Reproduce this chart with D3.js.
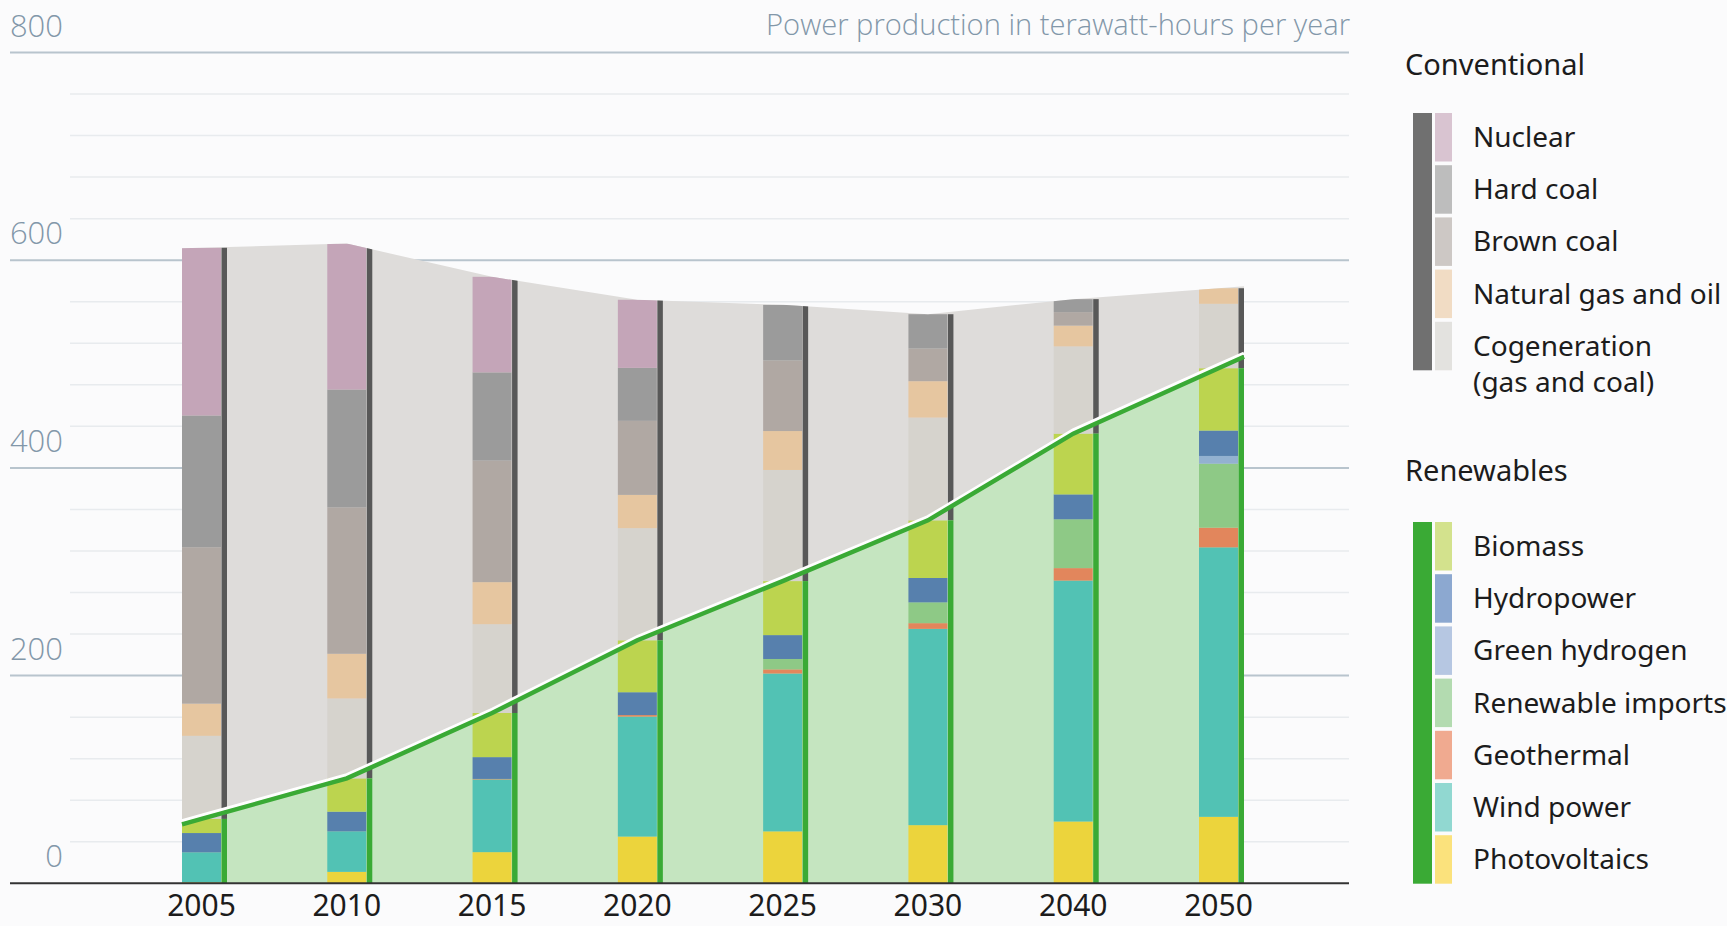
<!DOCTYPE html>
<html>
<head>
<meta charset="utf-8">
<script src="https://cdn.jsdelivr.net/npm/d3@7"></script>
<style>
  body { margin: 0; background: #fbfbfc; }
  svg { display: block; }
</style>
</head>
<body>
<svg width="1727" height="926"></svg>
<script>
// Years on the x axis
const years = ["2005", "2010", "2015", "2020", "2025", "2030", "2040", "2050"];

// Renewables (TWh per year), stacked bottom to top
const photovoltaics    = [1, 11, 30, 45, 50, 56, 59.5, 64];
const windPower        = [28.8, 39, 70, 115.5, 152, 189, 232, 259.5];
const geothermal       = [0, 0, 0.5, 1.5, 4, 5.5, 12, 19];
const renewableImports = [0, 0, 0, 0, 10, 20, 47, 61.5];
const greenHydrogen    = [0, 0, 0, 0, 0, 0, 0, 7.5];
const hydropower       = [18.6, 19, 21, 22, 23, 23.5, 24, 24.5];
const biomass          = [13.6, 32, 42.5, 50, 52, 55.5, 58.5, 60];

// Conventional (TWh per year), stacked on top of renewables
const cogeneration  = [80, 77, 85.5, 108, 107, 99, 84, 62];
const naturalGasOil = [31, 43, 40.5, 32, 37.5, 35, 20, 15];
const brownCoal     = [150.5, 141, 117, 71.3, 68, 31.5, 13, 0];
const hardCoal      = [127, 113.5, 85, 51, 53.5, 33, 12.5, 0];
const nuclear       = [161.5, 140.5, 92, 65.6, 0, 0, 0, 0];

const yTicks = [0, 200, 400, 600, 800];

const renewableKeys = ["Photovoltaics", "Wind power", "Geothermal", "Renewable imports", "Green hydrogen", "Hydropower", "Biomass"];
const renewableValues = [photovoltaics, windPower, geothermal, renewableImports, greenHydrogen, hydropower, biomass];
const conventionalKeys = ["Cogeneration", "Natural gas and oil", "Brown coal", "Hard coal", "Nuclear"];
const conventionalValues = [cogeneration, naturalGasOil, brownCoal, hardCoal, nuclear];

// bar colours and (lighter) legend colours
const barColor = {
    "Photovoltaics": "#ecd43c", "Wind power": "#52c2b4", "Geothermal": "#e2865c",
    "Renewable imports": "#8ec986", "Green hydrogen": "#93b1d0", "Hydropower": "#5780ad",
    "Biomass": "#bcd44f", "Cogeneration": "#d6d3cd", "Natural gas and oil": "#e6c6a0",
    "Brown coal": "#b0a8a3", "Hard coal": "#9b9b9b", "Nuclear": "#c4a5b8"
};
const legendColor = {
    "Photovoltaics": "#fbe27c", "Wind power": "#91d8d1", "Geothermal": "#f0aa90",
    "Renewable imports": "#b3dbb0", "Green hydrogen": "#b6c7e2", "Hydropower": "#8ca8d0",
    "Biomass": "#d3e28d", "Cogeneration": "#e3e2df", "Natural gas and oil": "#f1dcc4",
    "Brown coal": "#cdc8c5", "Hard coal": "#bdbdbd", "Nuclear": "#d9c4d1"
};

const svg = d3.select("svg");

// Scales
const x = d3.scalePoint().domain(years).range([201.5, 1218.5]);
const y = d3.scaleLinear().domain([0, 800]).range([883.3, 52.5]);
const barW = 39, stripeGap = 0.5, stripeW = 5.5;

// Stack all segments
const allKeys = renewableKeys.concat(conventionalKeys);
const rows = years.map((year, i) => {
    const r = { year: year };
    renewableKeys.forEach((k, j) => r[k] = renewableValues[j][i]);
    conventionalKeys.forEach((k, j) => r[k] = conventionalValues[j][i]);
    return r;
});
const series = d3.stack().keys(allKeys)(rows);
const renewTotal = rows.map(r => d3.sum(renewableKeys, k => r[k]));
const total = rows.map(r => d3.sum(allKeys, k => r[k]));

// Points through bar centres, extended to first bar's left and last stripe's right
function extend(values) {
    const pts = years.map((yr, i) => [x(yr), values[i]]);
    const n = pts.length;
    const xa = x(years[0]) - barW / 2;
    const xb = x(years[n - 1]) + barW / 2 + stripeGap + stripeW;
    const va = pts[0][1] + (pts[1][1] - pts[0][1]) * (xa - pts[0][0]) / (pts[1][0] - pts[0][0]);
    const vb = pts[n - 1][1] + (pts[n - 1][1] - pts[n - 2][1]) * (xb - pts[n - 1][0]) / (pts[n - 1][0] - pts[n - 2][0]);
    return [[xa, va]].concat(pts, [[xb, vb]]);
}
const renewPts = extend(renewTotal);
const totalPts = extend(total);
const band = renewPts.map((p, i) => ({ x: p[0], r: p[1], t: totalPts[i][1] }));

// Grid lines
const minor = d3.range(40, 800, 40).filter(v => v % 200 !== 0);
svg.append("g").selectAll("line").data(minor).join("line")
    .attr("x1", 70).attr("x2", 1349)
    .attr("y1", d => y(d)).attr("y2", d => y(d))
    .attr("stroke", "#e8ebee").attr("stroke-width", 1.5);
svg.append("g").selectAll("line").data(yTicks.filter(v => v > 0)).join("line")
    .attr("x1", 10).attr("x2", 1349)
    .attr("y1", d => y(d)).attr("y2", d => y(d))
    .attr("stroke", "#b8c4cd").attr("stroke-width", 2);

// Y labels
svg.append("g").selectAll("text").data(yTicks).join("text")
    .attr("x", 63).attr("y", d => y(d) - 16)
    .attr("text-anchor", "end")
    .style("font-family", "'Open Sans', 'Noto Sans', sans-serif")
    .style("font-weight", 300)
    .style("font-size", "31px")
    .style("fill", "#8297a9")
    .text(d => d);

svg.append("text")
    .attr("x", 1350).attr("y", 35)
    .attr("text-anchor", "end")
    .attr("textLength", 584).attr("lengthAdjust", "spacingAndGlyphs")
    .style("font-family", "'Open Sans', 'Noto Sans', sans-serif")
    .style("font-weight", 300)
    .style("font-size", "30px")
    .style("fill", "#8297a9")
    .text("Power production in terawatt-hours per year");

// Areas
svg.append("path").datum(band)
    .attr("d", d3.area().x(d => d.x).y0(y(0)).y1(d => y(d.r)))
    .attr("fill", "#c5e5c0");
svg.append("path").datum(band)
    .attr("d", d3.area().x(d => d.x).y0(d => y(d.r)).y1(d => y(d.t)))
    .attr("fill", "#dedcda");

// clip everything to the total outline
svg.append("clipPath").attr("id", "outline")
    .append("path").datum(band)
    .attr("d", d3.area().x(d => d.x).y0(y(0) + 3).y1(d => y(d.t)));

const bars = svg.append("g").attr("clip-path", "url(#outline)");
bars.selectAll("g").data(series).join("g")
    .attr("fill", s => barColor[s.key])
    .selectAll("rect").data(s => s.filter(d => d[1] - d[0] > 0)).join("rect")
    .attr("x", d => x(d.data.year) - barW / 2)
    .attr("width", barW)
    .attr("y", d => y(d[1]))
    .attr("height", d => y(d[0]) - y(d[1]));

// stripes to the right of each bar
bars.selectAll(".conv").data(years).join("rect")
    .attr("class", "conv")
    .attr("x", d => x(d) + barW / 2 + stripeGap)
    .attr("width", stripeW)
    .attr("y", (d, i) => y(total[i]))
    .attr("height", (d, i) => y(renewTotal[i]) - y(total[i]))
    .attr("fill", "#585858");
bars.selectAll(".ren").data(years).join("rect")
    .attr("class", "ren")
    .attr("x", d => x(d) + barW / 2 + stripeGap)
    .attr("width", stripeW)
    .attr("y", (d, i) => y(renewTotal[i]))
    .attr("height", (d, i) => y(0) - y(renewTotal[i]))
    .attr("fill", "#3aaa35");

// renewables line with white edge above
const line = d3.line().x(d => d.x).y(d => y(d.r));
svg.append("path").datum(band)
    .attr("d", line)
    .attr("transform", "translate(0,-3.5)")
    .attr("fill", "none").attr("stroke", "#ffffff").attr("stroke-width", 3.5);
svg.append("path").datum(band)
    .attr("d", line)
    .attr("fill", "none").attr("stroke", "#3aaa35").attr("stroke-width", 4.5);

// baseline
svg.append("line")
    .attr("x1", 10).attr("x2", 1349)
    .attr("y1", y(0)).attr("y2", y(0))
    .attr("stroke", "#333").attr("stroke-width", 2);

// X labels
svg.append("g").selectAll("text").data(years).join("text")
    .attr("x", d => x(d)).attr("y", 916)
    .attr("text-anchor", "middle")
    .style("font-family", "'Noto Sans', sans-serif")
    .style("font-size", "30px")
    .style("fill", "#1c1c1c")
    .text(d => d);

// Legend
function drawLegend(title, titleY, keys, labels, top, barFill) {
    const g = svg.append("g");
    g.append("text")
        .attr("x", 1405).attr("y", titleY)
        .style("font-family", "'Noto Sans', sans-serif")
        .style("font-size", "29px")
        .style("fill", "#1c1c1c")
        .text(title);
    const pitch = 52.2, h = 48.5;
    g.append("rect")
        .attr("x", 1413).attr("y", top)
        .attr("width", 19).attr("height", pitch * (keys.length - 1) + h)
        .attr("fill", barFill);
    const item = g.selectAll(".item").data(keys).join("g")
        .attr("class", "item")
        .attr("transform", (d, i) => `translate(0, ${top + i * pitch})`);
    item.append("rect")
        .attr("x", 1435).attr("y", 0)
        .attr("width", 17).attr("height", h)
        .attr("fill", d => legendColor[d]);
    item.append("text")
        .attr("x", 1473).attr("y", 34)
        .style("font-family", "'Noto Sans', sans-serif")
        .style("font-size", "28px")
        .style("fill", "#1c1c1c")
        .selectAll("tspan").data((d, i) => labels[i]).join("tspan")
        .attr("x", 1473).attr("dy", (d, i) => i === 0 ? 0 : 36)
        .text(d => d);
}

drawLegend("Conventional", 75,
    ["Nuclear", "Hard coal", "Brown coal", "Natural gas and oil", "Cogeneration"],
    [["Nuclear"], ["Hard coal"], ["Brown coal"], ["Natural gas and oil"], ["Cogeneration", "(gas and coal)"]],
    113, "#707070");
drawLegend("Renewables", 481,
    ["Biomass", "Hydropower", "Green hydrogen", "Renewable imports", "Geothermal", "Wind power", "Photovoltaics"],
    [["Biomass"], ["Hydropower"], ["Green hydrogen"], ["Renewable imports"], ["Geothermal"], ["Wind power"], ["Photovoltaics"]],
    522, "#3aaa35");
</script>
</body>
</html>
